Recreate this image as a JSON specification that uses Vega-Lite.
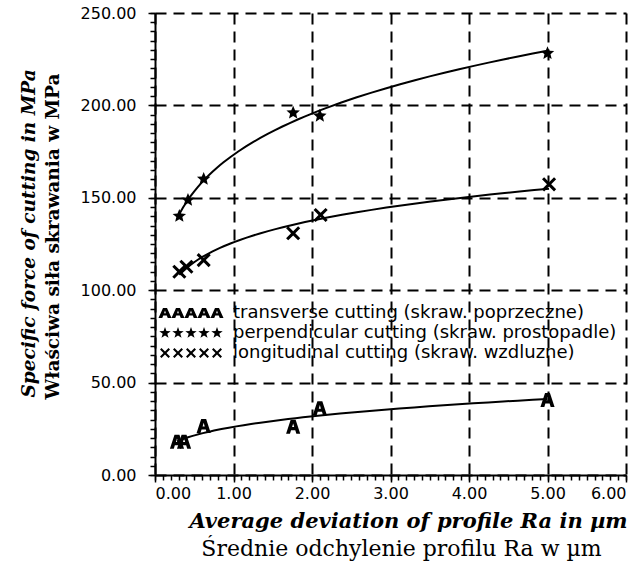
{
  "$schema": "https://vega.github.io/schema/vega-lite/v6.json",
  "width": 471,
  "height": 462,
  "autosize": {"type": "none"},
  "padding": {"left": 155, "top": 13, "right": 15, "bottom": 96},
  "background": "white",
  "config": {"view": {"stroke": null}, "font": "DejaVu Sans"},
  "data": {
    "values": [
      {"series": "transverse cutting (skraw. poprzeczne)", "Ra": 0.28, "F": 18.0},
      {"series": "transverse cutting (skraw. poprzeczne)", "Ra": 0.37, "F": 18.0},
      {"series": "transverse cutting (skraw. poprzeczne)", "Ra": 0.62, "F": 26.5},
      {"series": "transverse cutting (skraw. poprzeczne)", "Ra": 1.76, "F": 26.1},
      {"series": "transverse cutting (skraw. poprzeczne)", "Ra": 2.1, "F": 36.1},
      {"series": "transverse cutting (skraw. poprzeczne)", "Ra": 5.0, "F": 40.6},
      {"series": "perpendicular cutting (skraw. prostopadle)", "Ra": 0.31, "F": 140.1},
      {"series": "perpendicular cutting (skraw. prostopadle)", "Ra": 0.42, "F": 148.8},
      {"series": "perpendicular cutting (skraw. prostopadle)", "Ra": 0.62, "F": 160.2},
      {"series": "perpendicular cutting (skraw. prostopadle)", "Ra": 1.76, "F": 196.0},
      {"series": "perpendicular cutting (skraw. prostopadle)", "Ra": 2.1, "F": 194.3},
      {"series": "perpendicular cutting (skraw. prostopadle)", "Ra": 5.0, "F": 228.2},
      {"series": "longitudinal cutting (skraw. wzdluzne)", "Ra": 0.31, "F": 110.0},
      {"series": "longitudinal cutting (skraw. wzdluzne)", "Ra": 0.4, "F": 112.7},
      {"series": "longitudinal cutting (skraw. wzdluzne)", "Ra": 0.62, "F": 116.3},
      {"series": "longitudinal cutting (skraw. wzdluzne)", "Ra": 1.76, "F": 130.8},
      {"series": "longitudinal cutting (skraw. wzdluzne)", "Ra": 2.11, "F": 140.7},
      {"series": "longitudinal cutting (skraw. wzdluzne)", "Ra": 5.02, "F": 157.3}
    ]
  },
  "layer": [
    {
      "mark": {"type": "line", "color": "black", "strokeWidth": 2},
      "transform": [{"regression": "F", "on": "Ra", "method": "pow", "groupby": ["series"]}],
      "encoding": {
        "x": {
          "field": "Ra", "type": "quantitative",
          "scale": {"domain": [0, 6], "nice": false, "zero": false},
          "axis": {
            "orient": "bottom",
            "tickCount": 60, "labels": false, "grid": false, "domain": false,
            "ticks": true, "tickSize": 5, "tickColor": "black", "tickWidth": 1.5,
            "title": "Średnie odchylenie profilu Ra w  µm",
            "titleFont": "DejaVu Serif", "titleFontSize": 22, "titleFontWeight": "normal",
            "titleColor": "black", "titleX": 246, "titleY": 73, "titleBaseline": "middle", "titleAlign": "center"
          }
        },
        "y": {
          "field": "F", "type": "quantitative",
          "scale": {"domain": [0, 250], "nice": false, "zero": false},
          "axis": {
            "orient": "left",
            "tickCount": 50, "labels": false, "grid": false, "domain": false,
            "ticks": true, "tickSize": 5, "tickColor": "black", "tickWidth": 1.5,
            "title": "Właściwa siła skrawania w MPa",
            "titleFont": "DejaVu Serif", "titleFontSize": 18.5, "titleFontWeight": "bold",
            "titleColor": "black", "titleX": -103, "titleY": 223, "titleAngle": -90,
            "titleBaseline": "middle", "titleAlign": "center"
          }
        },
        "detail": {"field": "series"}
      }
    },
    {
      "mark": {"type": "point", "filled": true, "color": "black", "size": 200, "opacity": 1},
      "encoding": {
        "x": {
          "field": "Ra", "type": "quantitative",
          "axis": {
            "orient": "bottom",
            "values": [0, 1, 2, 3, 4, 5, 6], "format": ".2f",
            "grid": true, "gridColor": "black", "gridDash": [11, 7], "gridWidth": 2, "gridOpacity": 1,
            "domainColor": "black", "domainWidth": 2,
            "tickColor": "black", "tickSize": 7, "tickWidth": 1.5,
            "labelFont": "DejaVu Sans", "labelFontSize": 16, "labelColor": "black", "labelPadding": 3,
            "title": "Average deviation of profile Ra in µm",
            "titleFont": "DejaVu Serif", "titleFontSize": 21, "titleFontStyle": "italic", "titleFontWeight": "bold",
            "titleColor": "black", "titleX": 253, "titleY": 46, "titleBaseline": "middle", "titleAlign": "center"
          }
        },
        "y": {
          "field": "F", "type": "quantitative",
          "axis": {
            "orient": "left",
            "values": [0, 50, 100, 150, 200, 250], "format": ".2f",
            "grid": true, "gridColor": "black", "gridDash": [11, 7], "gridWidth": 2, "gridOpacity": 1,
            "domainColor": "black", "domainWidth": 2,
            "tickColor": "black", "tickSize": 7, "tickWidth": 1.5,
            "labelFont": "DejaVu Sans", "labelFontSize": 16, "labelColor": "black", "labelPadding": 12,
            "title": "Specific force of cutting in MPa",
            "titleFont": "DejaVu Serif", "titleFontSize": 18.5, "titleFontStyle": "italic", "titleFontWeight": "bold",
            "titleColor": "black", "titleX": -127, "titleY": 220, "titleAngle": -90,
            "titleBaseline": "middle", "titleAlign": "center"
          }
        },
        "shape": {
          "field": "series", "type": "nominal",
          "scale": {
            "domain": ["transverse cutting (skraw. poprzeczne)", "perpendicular cutting (skraw. prostopadle)", "longitudinal cutting (skraw. wzdluzne)"],
            "range": [
              "M-1,1L-0.35,-1L0.35,-1L1,1L0.45,1L0.3,0.5L-0.3,0.5L-0.45,1ZM-0.15,0.05L0.15,0.05L0,-0.45Z",
              "M0,-1L0.265,-0.364L0.951,-0.309L0.428,0.139L0.588,0.809L0,0.45L-0.588,0.809L-0.428,0.139L-0.951,-0.309L-0.265,-0.364Z",
              "M-1,-0.7L-0.7,-1L0,-0.3L0.7,-1L1,-0.7L0.3,0L1,0.7L0.7,1L0,0.3L-0.7,1L-1,0.7L-0.3,0Z"
            ]
          },
          "legend": null
        }
      }
    },
    {
      "transform": [{"filter": "datum.F < 0"}],
      "mark": {"type": "point", "filled": true, "color": "black", "size": 100},
      "encoding": {
        "x": {"field": "Ra", "type": "quantitative", "axis": null},
        "y": {"field": "F", "type": "quantitative", "axis": null},
        "shape": {
          "field": "series", "type": "nominal",
          "scale": {
            "domain": ["transverse cutting (skraw. poprzeczne)", "perpendicular cutting (skraw. prostopadle)", "longitudinal cutting (skraw. wzdluzne)"],
            "range": [
              "M-6.5,1L-5.6,-1L-4.8,-1L-3.9,1L-4.65,1L-4.85,0.5L-5.55,0.5L-5.75,1ZM-5.38,0.05L-5.02,0.05L-5.2,-0.5ZM-3.9,1L-3,-1L-2.2,-1L-1.3,1L-2.05,1L-2.25,0.5L-2.95,0.5L-3.15,1ZM-2.78,0.05L-2.42,0.05L-2.6,-0.5ZM-1.3,1L-0.4,-1L0.4,-1L1.3,1L0.55,1L0.35,0.5L-0.35,0.5L-0.55,1ZM-0.18,0.05L0.18,0.05L0,-0.5ZM1.3,1L2.2,-1L3,-1L3.9,1L3.15,1L2.95,0.5L2.25,0.5L2.05,1ZM2.42,0.05L2.78,0.05L2.6,-0.5ZM3.9,1L4.8,-1L5.6,-1L6.5,1L5.75,1L5.55,0.5L4.85,0.5L4.65,1ZM5.02,0.05L5.38,0.05L5.2,-0.5Z",
              "M-5.2,-1.2L-4.918,-0.389L-4.059,-0.371L-4.744,0.148L-4.494,0.971L-5.2,0.48L-5.906,0.971L-5.656,0.148L-6.341,-0.371L-5.482,-0.389ZM-2.6,-1.2L-2.318,-0.389L-1.459,-0.371L-2.144,0.148L-1.894,0.971L-2.6,0.48L-3.306,0.971L-3.056,0.148L-3.741,-0.371L-2.882,-0.389ZM0,-1.2L0.282,-0.389L1.141,-0.371L0.456,0.148L0.706,0.971L0,0.48L-0.706,0.971L-0.456,0.148L-1.141,-0.371L-0.282,-0.389ZM2.6,-1.2L2.882,-0.389L3.741,-0.371L3.056,0.148L3.306,0.971L2.6,0.48L1.894,0.971L2.144,0.148L1.459,-0.371L2.318,-0.389ZM5.2,-1.2L5.482,-0.389L6.341,-0.371L5.656,0.148L5.906,0.971L5.2,0.48L4.494,0.971L4.744,0.148L4.059,-0.371L4.918,-0.389Z",
              "M-6.2,-0.7L-5.9,-1L-5.2,-0.3L-4.5,-1L-4.2,-0.7L-4.9,0L-4.2,0.7L-4.5,1L-5.2,0.3L-5.9,1L-6.2,0.7L-5.5,0ZM-3.6,-0.7L-3.3,-1L-2.6,-0.3L-1.9,-1L-1.6,-0.7L-2.3,0L-1.6,0.7L-1.9,1L-2.6,0.3L-3.3,1L-3.6,0.7L-2.9,0ZM-1,-0.7L-0.7,-1L0,-0.3L0.7,-1L1,-0.7L0.3,0L1,0.7L0.7,1L0,0.3L-0.7,1L-1,0.7L-0.3,0ZM1.6,-0.7L1.9,-1L2.6,-0.3L3.3,-1L3.6,-0.7L2.9,0L3.6,0.7L3.3,1L2.6,0.3L1.9,1L1.6,0.7L2.3,0ZM4.2,-0.7L4.5,-1L5.2,-0.3L5.9,-1L6.2,-0.7L5.5,0L6.2,0.7L5.9,1L5.2,0.3L4.5,1L4.2,0.7L4.9,0Z"
            ]
          },
          "legend": {
            "orient": "none", "legendX": 27, "legendY": 291, "title": null, "padding": 0,
            "symbolSize": 100, "labelOffset": 33, "rowPadding": 2, "labelLimit": 0,
            "labelFont": "DejaVu Sans", "labelFontSize": 18, "labelColor": "black",
            "symbolFillColor": "black", "symbolStrokeColor": "black", "symbolStrokeWidth": 0, "symbolOpacity": 1
          }
        }
      }
    }
  ],
  "resolve": {"axis": {"x": "independent", "y": "independent"}, "scale": {"shape": "independent"}}
}
